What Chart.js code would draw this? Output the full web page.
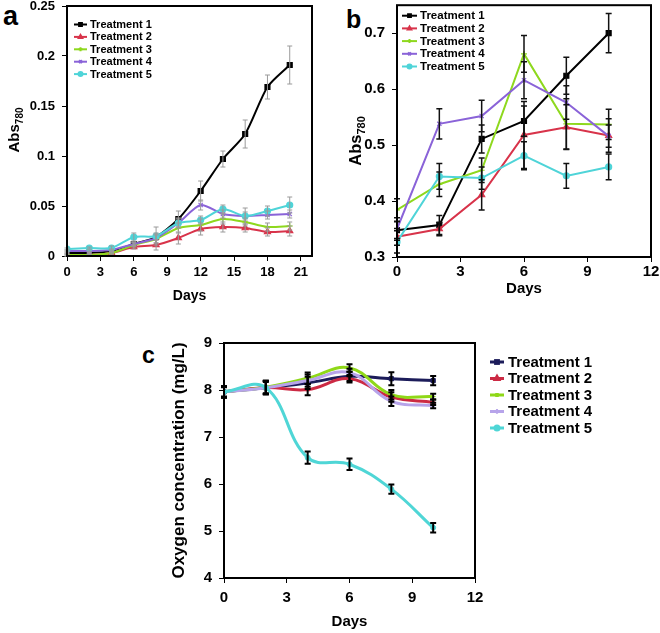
<!DOCTYPE html>
<html>
<head>
<meta charset="utf-8">
<script src="https://cdn.jsdelivr.net/npm/chart.js@4.4.1/dist/chart.umd.min.js"></script>
<style>
  html, body { margin:0; padding:0; background:#fff; }
  body { width:660px; height:633px; position:relative; overflow:hidden; font-family:"Liberation Sans", Arial, sans-serif; }
  canvas { position:absolute; }
  .lbl { position:absolute; font-weight:bold; font-family:"Liberation Sans", Arial, sans-serif; color:#000; line-height:1; }
</style>
</head>
<body>
<div class="lbl" style="left:3px;top:3px;font-size:27px;">a</div>
<div class="lbl" style="left:346px;top:7px;font-size:25px;">b</div>
<div class="lbl" style="left:142px;top:344px;font-size:23px;">c</div>
<canvas id="ca" width="330" height="310" style="left:0;top:0;"></canvas>
<canvas id="cb" width="330" height="300" style="left:330px;top:0;"></canvas>
<canvas id="cc" width="510" height="333" style="left:150px;top:300px;"></canvas>
<script>
// ---------------- DATA ----------------
const seriesNames = ["Treatment 1", "Treatment 2", "Treatment 3", "Treatment 4", "Treatment 5"];

// Panel a: Abs780 over 20 days
const aDays = [0, 2, 4, 6, 8, 10, 12, 14, 16, 18, 20];
const aT1 = [0.003, 0.003, 0.005, 0.012, 0.019, 0.037, 0.065, 0.097, 0.122, 0.169, 0.191];
const aT2 = [0.001, 0.001, 0.003, 0.009, 0.011, 0.018, 0.027, 0.029, 0.028, 0.024, 0.025];
const aT3 = [0.001, 0.001, 0.003, 0.011, 0.017, 0.028, 0.031, 0.037, 0.034, 0.029, 0.030];
const aT4 = [0.005, 0.005, 0.006, 0.012, 0.018, 0.033, 0.051, 0.042, 0.040, 0.041, 0.042];
const aT5 = [0.007, 0.008, 0.008, 0.019, 0.020, 0.033, 0.036, 0.047, 0.040, 0.045, 0.051];
const aT1Err = [0.001, 0.001, 0.001, 0.002, 0.003, 0.008, 0.010, 0.008, 0.014, 0.012, 0.019];
const aT2Err = [0.001, 0.001, 0.001, 0.002, 0.005, 0.006, 0.006, 0.005, 0.004, 0.004, 0.005];
const aT3Err = [0.001, 0.001, 0.001, 0.002, 0.004, 0.005, 0.006, 0.005, 0.004, 0.004, 0.004];
const aT4Err = [0.001, 0.001, 0.001, 0.002, 0.005, 0.005, 0.005, 0.004, 0.004, 0.004, 0.004];
const aT5Err = [0.001, 0.001, 0.002, 0.004, 0.009, 0.004, 0.004, 0.004, 0.008, 0.005, 0.008];
const aXTicks = [0, 3, 6, 9, 12, 15, 18, 21];
const aYTicks = [0, 0.05, 0.1, 0.15, 0.2, 0.25];

// Panel b: Abs780 over 10 days
const bDays = [0, 2, 4, 6, 8, 10];
const bT1 = [0.348, 0.357, 0.511, 0.543, 0.624, 0.700];
const bT2 = [0.336, 0.350, 0.411, 0.518, 0.532, 0.517];
const bT3 = [0.384, 0.430, 0.455, 0.663, 0.538, 0.537];
const bT4 = [0.350, 0.538, 0.552, 0.616, 0.576, 0.516];
const bT5 = [0.327, 0.444, 0.441, 0.481, 0.445, 0.461];
const bT1Err = [0.015, 0.017, 0.025, 0.027, 0.033, 0.035];
const bT2Err = [0.015, 0.012, 0.027, 0.060, 0.040, 0.030];
const bT3Err = [0.020, 0.022, 0.022, 0.033, 0.045, 0.027];
const bT4Err = [0.020, 0.027, 0.028, 0.033, 0.030, 0.020];
const bT5Err = [0.020, 0.023, 0.020, 0.025, 0.022, 0.023];
const bXTicks = [0, 3, 6, 9, 12];
const bYTicks = [0.3, 0.4, 0.5, 0.6, 0.7];

// Panel c: Oxygen concentration (mg/L)
const cDays = [0, 2, 4, 6, 8, 10];
const cT1 = [7.96, 8.05, 8.15, 8.29, 8.24, 8.20];
const cT2 = [7.96, 8.05, 8.01, 8.24, 7.85, 7.74];
const cT3 = [7.96, 8.06, 8.25, 8.47, 7.90, 7.86];
const cT4 = [7.96, 8.05, 8.20, 8.37, 7.76, 7.67];
const cT5 = [7.96, 8.05, 6.56, 6.42, 5.89, 5.07];
const cT1Err = [0.12, 0.14, 0.13, 0.10, 0.14, 0.10];
const cT2Err = [0.12, 0.14, 0.12, 0.08, 0.10, 0.06];
const cT3Err = [0.12, 0.14, 0.12, 0.08, 0.10, 0.06];
const cT4Err = [0.12, 0.14, 0.13, 0.08, 0.10, 0.06];
const cT5Err = [0.10, 0.12, 0.13, 0.12, 0.10, 0.10];
const cXTicks = [0, 3, 6, 9, 12];
const cYTicks = [4, 5, 6, 7, 8, 9];

// ---------------- STYLES ----------------
const FONT = "'Liberation Sans', Arial, sans-serif";
const colorsAB = ["#000000", "#d8334a", "#8ed81e", "#8a63d8", "#4fd4d8"];
const colorsC  = ["#1c1c5a", "#cc2a44", "#8fd818", "#b7a4ea", "#4fd6d6"];
const pStyles  = ["rect", "triangle", "cross", "crossRot", "circle"];

function mkDatasets(xs, ys, errs, colors, opts) {
  return ys.map((arr, i) => ({
    label: seriesNames[i],
    data: xs.map((x, k) => ({ x: x, y: arr[k] })),
    errors: errs[i],
    borderColor: colors[i],
    backgroundColor: colors[i],
    pointBackgroundColor: colors[i],
    pointBorderColor: colors[i],
    pointStyle: pStyles[i],
    pointRadius: opts.radii[i],
    pointBorderWidth: opts.pbw,
    borderWidth: opts.lw,
    tension: opts.tension,
    fill: false
  })).reverse();
}

const helperPlugin = {
  id: 'helper',
  afterDatasetsDraw(chart) {
    const cfg = chart.options.plugins.helper;
    const ctx = chart.ctx;
    const xs = chart.scales.x, ys = chart.scales.y;
    ctx.save();
    ctx.strokeStyle = cfg.errColor;
    ctx.lineWidth = cfg.errWidth;
    chart.data.datasets.forEach(ds => {
      ds.data.forEach((p, k) => {
        const e = ds.errors[k];
        const px = xs.getPixelForValue(p.x);
        const y1 = ys.getPixelForValue(p.y - e);
        const y2 = ys.getPixelForValue(p.y + e);
        ctx.beginPath();
        ctx.moveTo(px, y1); ctx.lineTo(px, y2);
        ctx.moveTo(px - cfg.cap, y1); ctx.lineTo(px + cfg.cap, y1);
        ctx.moveTo(px - cfg.cap, y2); ctx.lineTo(px + cfg.cap, y2);
        ctx.stroke();
      });
    });
    ctx.restore();
  },
  afterDraw(chart) {
    const cfg = chart.options.plugins.helper;
    const ctx = chart.ctx;
    const a = chart.chartArea;
    ctx.save();
    ctx.strokeStyle = '#000';
    ctx.lineWidth = 2;
    ctx.strokeRect(a.left, a.top, a.right - a.left, a.bottom - a.top);
    ctx.restore();
    // y title with subscript (rotated)
    const T = cfg.ytitle;
    if (T) {
      ctx.save();
      ctx.fillStyle = '#000';
      ctx.textBaseline = 'alphabetic';
      ctx.textAlign = 'left';
      ctx.font = "bold " + T.size + "px " + FONT;
      const w1 = ctx.measureText(T.main).width;
      ctx.font = "bold " + T.subSize + "px " + FONT;
      const w2 = ctx.measureText(T.sub).width;
      const total = w1 + w2;
      ctx.translate(T.x, T.cy);
      ctx.rotate(-Math.PI / 2);
      ctx.font = "bold " + T.size + "px " + FONT;
      ctx.fillText(T.main, -total / 2, T.size * 0.36);
      ctx.font = "bold " + T.subSize + "px " + FONT;
      ctx.fillText(T.sub, -total / 2 + w1, T.size * 0.36 + T.subSize * 0.35);
      ctx.restore();
    }
    // legend
    const L = cfg.legend;
    const dsl = chart.data.datasets.slice().reverse();
    dsl.forEach((ds, i) => {
      const y = L.y + i * L.dy;
      ctx.save();
      ctx.strokeStyle = ds.borderColor;
      ctx.fillStyle = ds.borderColor;
      ctx.lineWidth = L.lw;
      ctx.beginPath(); ctx.moveTo(L.x, y); ctx.lineTo(L.x + L.len, y); ctx.stroke();
      Chart.helpers.drawPoint(ctx, { pointStyle: ds.pointStyle, radius: L.r, borderWidth: 1, rotation: 0 }, L.x + L.len / 2, y);
      ctx.fillStyle = '#000';
      ctx.font = L.font;
      ctx.textBaseline = 'middle';
      ctx.textAlign = 'left';
      ctx.fillText(ds.label, L.x + L.len + L.gap, y + 0.5);
      ctx.restore();
    });
  }
};

function fmt(v) { return String(+(+v).toFixed(3)); }

function axes(p) {
  return {
    x: {
      type: 'linear', min: p.xmin, max: p.xmax,
      afterBuildTicks: s => { s.ticks = p.xticks.map(v => ({ value: v })); },
      afterFit: s => { s.height = p.xh; s.paddingLeft = 0; s.paddingRight = 0; },
      grid: { display: true, drawOnChartArea: false, drawTicks: true, tickLength: 5, color: '#000', lineWidth: 1 },
      border: { display: false },
      ticks: { color: '#000', padding: p.xpad, maxRotation: 0, font: { family: FONT, size: p.tickSize, weight: 'bold' }, callback: v => fmt(v) },
      title: { display: true, text: 'Days', color: '#000', font: { family: FONT, size: p.xtSize, weight: 'bold' }, padding: { top: 0, bottom: p.xtPad } }
    },
    y: {
      type: 'linear', min: p.ymin, max: p.ymax,
      afterBuildTicks: s => { s.ticks = p.yticks.map(v => ({ value: v })); },
      afterFit: s => { s.width = p.yw; s.paddingTop = 0; s.paddingBottom = 0; },
      grid: { display: true, drawOnChartArea: false, drawTicks: true, tickLength: 5, color: '#000', lineWidth: 1 },
      border: { display: false },
      ticks: { color: '#000', padding: p.ypad, font: { family: FONT, size: p.tickSize, weight: 'bold' }, callback: v => fmt(v) },
      title: { display: !!p.ytitle, text: p.ytitle || '', color: '#000', font: { family: FONT, size: p.ytSize, weight: 'bold' }, padding: { top: p.ytPad, bottom: 0 } }
    }
  };
}

function common(padding, helper, scales) {
  return {
    responsive: false, animation: false, devicePixelRatio: 1,
    layout: { padding: padding },
    plugins: { legend: { display: false }, tooltip: { enabled: false }, helper: helper },
    scales: scales
  };
}

// Panel a
new Chart(document.getElementById('ca'), {
  type: 'line',
  data: { datasets: mkDatasets(aDays, [aT1, aT2, aT3, aT4, aT5], [aT1Err, aT2Err, aT3Err, aT4Err, aT5Err], colorsAB,
    { radii: [3.5, 3.5, 3, 3, 3], pbw: 1.2, lw: 2, tension: 0.25 }) },
  options: common({ left: 0, right: 18, top: 6, bottom: 0 },
    { errColor: '#9a9a9a', errWidth: 1, cap: 2.5,
      ytitle: { main: 'Abs', sub: '780', x: 14, cy: 130, size: 15, subSize: 10 },
      legend: { x: 74, y: 24.5, dy: 12.4, len: 13, gap: 3, lw: 2, r: 2, font: "bold 11px " + FONT } },
    axes({ xmin: 0, xmax: 22, xticks: aXTicks, xh: 54, xpad: 4, tickSize: 13, xtSize: 14, xtPad: 5,
           ymin: 0, ymax: 0.25, yticks: aYTicks, yw: 67, ypad: 7, ytitle: null })),
  plugins: [helperPlugin]
});

// Panel b
new Chart(document.getElementById('cb'), {
  type: 'line',
  data: { datasets: mkDatasets(bDays, [bT1, bT2, bT3, bT4, bT5], [bT1Err, bT2Err, bT3Err, bT4Err, bT5Err], colorsAB,
    { radii: [3.5, 3.5, 3, 3, 3], pbw: 1.2, lw: 2, tension: 0 }) },
  options: common({ left: 0, right: 9, top: 5, bottom: 0 },
    { errColor: '#111', errWidth: 1.5, cap: 3,
      ytitle: { main: 'Abs', sub: '780', x: 25, cy: 141, size: 16.5, subSize: 11 },
      legend: { x: 72, y: 15.7, dy: 12.7, len: 15, gap: 3, lw: 2, r: 2, font: "bold 11.5px " + FONT } },
    axes({ xmin: 0, xmax: 12, xticks: bXTicks, xh: 43, xpad: 1, tickSize: 15, xtSize: 15, xtPad: 2,
           ymin: 0.3, ymax: 0.75, yticks: bYTicks, yw: 67, ypad: 7, ytitle: null })),
  plugins: [helperPlugin]
});

// Panel c
new Chart(document.getElementById('cc'), {
  type: 'line',
  data: { datasets: mkDatasets(cDays, [cT1, cT2, cT3, cT4, cT5], [cT1Err, cT2Err, cT3Err, cT4Err, cT5Err], colorsC,
    { radii: [3, 2.5, 2.5, 2.5, 2.5], pbw: 1, lw: 3, tension: 0.4 }) },
  options: common({ left: 0, right: 185, top: 43, bottom: 0 },
    { errColor: '#000', errWidth: 2, cap: 3,
      legend: { x: 340, y: 62, dy: 16.5, len: 14, gap: 4, lw: 3, r: 2, font: "bold 15px " + FONT } },
    axes({ xmin: 0, xmax: 12, xticks: cXTicks, xh: 55, xpad: 6, tickSize: 15, xtSize: 15, xtPad: 2,
           ymin: 4, ymax: 9, yticks: cYTicks, yw: 74, ypad: 7, ytitle: 'Oxygen concentration (mg/L)', ytSize: 17, ytPad: 19 })),
  plugins: [helperPlugin]
});
</script>
</body>
</html>
